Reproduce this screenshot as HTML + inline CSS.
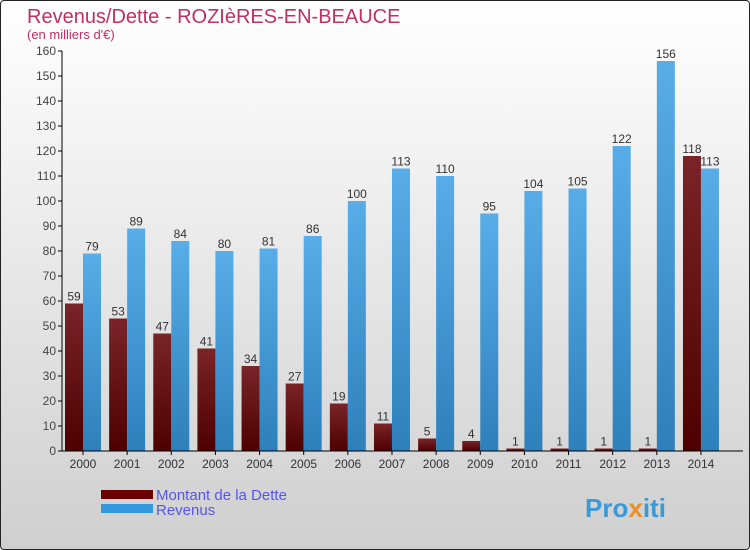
<!DOCTYPE html>
<html><head><meta charset="utf-8"><style>
body{margin:0}
#c{position:relative;width:748px;height:548px;border:1px solid #222;border-radius:4px;background:linear-gradient(#fff,#cfcfcf);overflow:hidden;font-family:"Liberation Sans",sans-serif}
</style></head><body>
<div id="c">
<svg width="748" height="548">
<defs>
<linearGradient id="gd" x1="0" y1="0" x2="0" y2="1"><stop offset="0" stop-color="#7a2428"/><stop offset="1" stop-color="#4e0000"/></linearGradient>
<linearGradient id="gr" x1="0" y1="0" x2="0" y2="1"><stop offset="0" stop-color="#58ade8"/><stop offset="1" stop-color="#2e80bb"/></linearGradient>
</defs>
<text x="26" y="22" font-size="20" fill="#c03060">Revenus/Dette - ROZIèRES-EN-BEAUCE</text>
<text x="26" y="38" font-size="13" fill="#c03060">(en milliers d'€)</text>
<g id="grid"></g><g id="bars"></g><g id="axes"></g>
<rect x="100" y="489" width="52" height="9" fill="#6a0000"/>
<rect x="100" y="503" width="52" height="9" fill="#3399dd"/>
<text x="155" y="499" font-size="15" fill="#5555ee">Montant de la Dette</text>
<text x="155" y="514" font-size="15" fill="#5555ee">Revenus</text>
<text x="584" y="516" font-size="26" font-weight="bold" fill="#3a9ad9">Pro<tspan fill="#e8902a">x</tspan>iti</text>
</svg></div>
<script>
const years=["2000","2001","2002","2003","2004","2005","2006","2007","2008","2009","2010","2011","2012","2013","2014"];
const dette=[59,53,47,41,34,27,19,11,5,4,1,1,1,1,118];
const revenus=[79,89,84,80,81,86,100,113,110,95,104,105,122,156,113];
const yTicks=[0,10,20,30,40,50,60,70,80,90,100,110,120,130,140,150,160];
const NS="http://www.w3.org/2000/svg";
const y0=450,sc=2.5,x0=82,step=44.14,bw=18;
const Y=v=>y0-v*sc, X=i=>x0+i*step;
function mk(t,a,p){const e=document.createElementNS(NS,t);for(const k in a)e.setAttribute(k,a[k]);p.appendChild(e);return e;}
const ax=document.getElementById('axes'),bars=document.getElementById('bars');
let l=mk('line',{x1:61,y1:50,x2:61,y2:450,stroke:'#000'},ax);


l=mk('line',{x1:61,y1:450,x2:742,y2:450,stroke:'#000'},ax);


yTicks.forEach(v=>{
 mk('line',{x1:57,y1:Y(v),x2:61,y2:Y(v),stroke:'#000'},ax);
 const t=mk('text',{x:55,y:Y(v)+4,'font-size':12,fill:'#444','text-anchor':'end'},ax);t.textContent=v;
 
 
});
years.forEach((yr,i)=>{
 const cx=X(i);
 mk('line',{x1:cx,y1:450,x2:cx,y2:454,stroke:'#000'},ax);
 const t=mk('text',{x:cx,y:467,'font-size':12,fill:'#333','text-anchor':'middle'},ax);t.textContent=yr;
 
 
 const d=mk('rect',{x:cx-bw,y:Y(dette[i]),width:bw,height:dette[i]*sc,fill:'url(#gd)'},bars);
 
 
 const r=mk('rect',{x:cx,y:Y(revenus[i]),width:bw,height:revenus[i]*sc,fill:'url(#gr)'},bars);
 
 
 const a=mk('text',{x:cx-bw/2,y:Y(dette[i])-3,'font-size':12,fill:'#333','text-anchor':'middle'},bars);a.textContent=dette[i];
 
 
 const b=mk('text',{x:cx+bw/2,y:Y(revenus[i])-3,'font-size':12,fill:'#333','text-anchor':'middle'},bars);b.textContent=revenus[i];
 
 
});
</script>
</body></html>
